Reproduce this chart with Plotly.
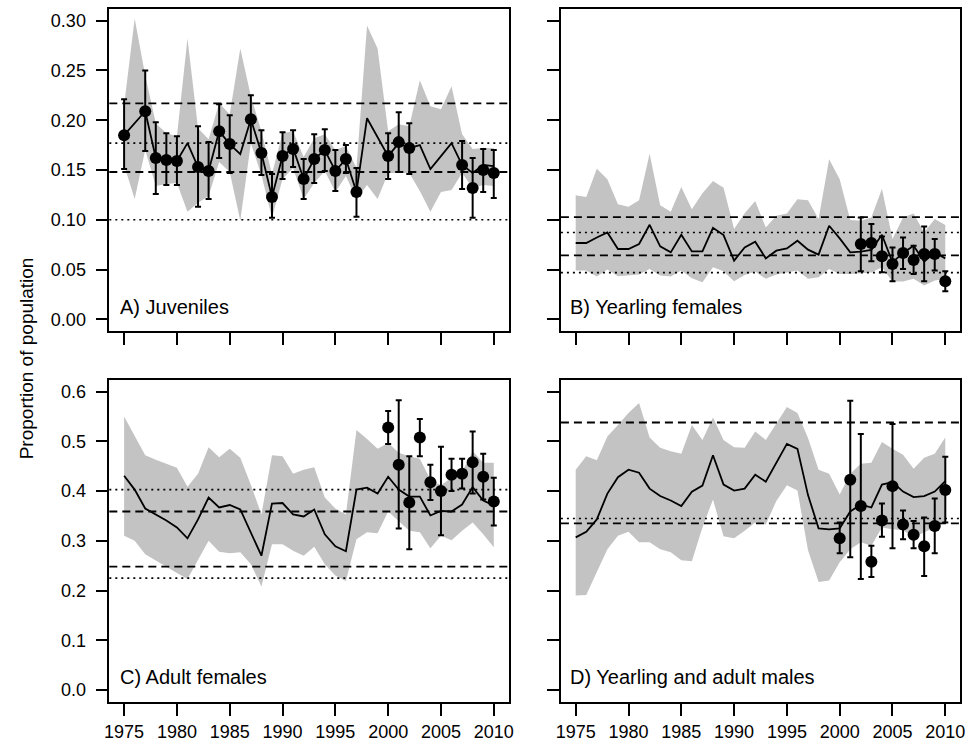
import plotly.graph_objects as go

# ---------------- data ----------------
years = list(range(1975, 2011))
x_ticks = [1975, 1980, 1985, 1990, 1995, 2000, 2005, 2010]
y_ticks_top = [0.00, 0.05, 0.10, 0.15, 0.20, 0.25, 0.30]
y_ticks_bot = [0.0, 0.1, 0.2, 0.3, 0.4, 0.5, 0.6]

# Panel A: Juveniles
A_line = [0.185, 0.197, 0.209, 0.162, 0.160, 0.159, 0.177, 0.153, 0.149, 0.189,
          0.176, 0.166, 0.201, 0.167, 0.123, 0.164, 0.172, 0.141, 0.161, 0.170,
          0.149, 0.161, 0.128, 0.202, 0.183, 0.164, 0.177, 0.172, 0.175, 0.151,
          0.164, 0.177, 0.155, 0.147, 0.155, 0.154]
A_upper = [0.215, 0.302, 0.245, 0.197, 0.187, 0.184, 0.282, 0.192, 0.181, 0.217,
           0.206, 0.272, 0.224, 0.189, 0.146, 0.187, 0.189, 0.163, 0.182, 0.186,
           0.170, 0.174, 0.152, 0.295, 0.272, 0.189, 0.196, 0.194, 0.240, 0.214,
           0.211, 0.234, 0.186, 0.171, 0.172, 0.172]
A_lower = [0.155, 0.121, 0.170, 0.134, 0.136, 0.137, 0.108, 0.117, 0.124, 0.158,
           0.148, 0.099, 0.177, 0.145, 0.102, 0.141, 0.152, 0.121, 0.137, 0.149,
           0.128, 0.144, 0.121, 0.135, 0.121, 0.147, 0.147, 0.147, 0.129, 0.108,
           0.128, 0.130, 0.147, 0.132, 0.135, 0.134]
A_obs_years = [1975, 1977, 1978, 1979, 1980, 1982, 1983, 1984, 1985, 1987, 1988,
               1989, 1990, 1991, 1992, 1993, 1994, 1995, 1996, 1997, 2000, 2001,
               2002, 2007, 2008, 2009, 2010]
A_obs = [0.185, 0.209, 0.162, 0.160, 0.159, 0.153, 0.149, 0.189, 0.176, 0.201, 0.167,
         0.123, 0.164, 0.171, 0.141, 0.161, 0.170, 0.149, 0.161, 0.128, 0.164, 0.178,
         0.172, 0.155, 0.132, 0.150, 0.147]
A_obs_lo = [0.151, 0.169, 0.126, 0.135, 0.135, 0.113, 0.121, 0.162, 0.147, 0.177, 0.145,
            0.102, 0.141, 0.153, 0.121, 0.137, 0.149, 0.129, 0.147, 0.103, 0.141, 0.148,
            0.146, 0.131, 0.102, 0.128, 0.122]
A_obs_hi = [0.221, 0.250, 0.198, 0.187, 0.184, 0.194, 0.178, 0.216, 0.205, 0.225, 0.190,
            0.146, 0.188, 0.190, 0.161, 0.186, 0.191, 0.170, 0.175, 0.152, 0.187, 0.208,
            0.197, 0.179, 0.162, 0.171, 0.170]
A_dashed = [0.217, 0.148]
A_dotted = [0.177, 0.100]

# Panel B: Yearling females
B_line = [0.0767, 0.0767, 0.0823, 0.0873, 0.0707, 0.0707, 0.0757, 0.0950, 0.0733, 0.0673,
          0.0850, 0.0683, 0.0683, 0.0920, 0.0847, 0.0590, 0.0723, 0.0780, 0.0613, 0.0690,
          0.0713, 0.0790, 0.0700, 0.0650, 0.0940, 0.0813, 0.0673, 0.0680, 0.0697, 0.0850,
          0.0573, 0.0667, 0.0740, 0.0580, 0.0673, 0.0613]
B_upper = [0.1247, 0.1230, 0.1513, 0.1407, 0.1157, 0.1130, 0.1197, 0.1663, 0.1147, 0.1080,
           0.1330, 0.1107, 0.1267, 0.1390, 0.1323, 0.0907, 0.1067, 0.1190, 0.0923, 0.1040,
           0.1063, 0.1207, 0.1197, 0.1007, 0.1607, 0.1407, 0.0997, 0.0990, 0.1023, 0.1313,
           0.0807, 0.1023, 0.1063, 0.0873, 0.1007, 0.0947]
B_lower = [0.0490, 0.0490, 0.0430, 0.0500, 0.0433, 0.0440, 0.0450, 0.0507, 0.0440, 0.0430,
           0.0490, 0.0413, 0.0373, 0.0523, 0.0483, 0.0383, 0.0447, 0.0480, 0.0407, 0.0450,
           0.0467, 0.0490, 0.0407, 0.0423, 0.0507, 0.0457, 0.0457, 0.0463, 0.0470, 0.0523,
           0.0380, 0.0380, 0.0407, 0.0340, 0.0390, 0.0407]
B_obs_years = [2002, 2003, 2004, 2005, 2006, 2007, 2008, 2009, 2010]
B_obs = [0.0757, 0.0767, 0.0633, 0.0557, 0.0667, 0.0597, 0.0657, 0.0657, 0.0383]
B_obs_lo = [0.0483, 0.0583, 0.0473, 0.0383, 0.0507, 0.0457, 0.0383, 0.0490, 0.0283]
B_obs_hi = [0.1023, 0.0957, 0.0833, 0.0723, 0.0823, 0.0740, 0.0933, 0.0807, 0.0483]
B_dashed = [0.1027, 0.0643]
B_dotted = [0.0873, 0.0470]

# Panel C: Adult females
C_line = [0.431, 0.403, 0.365, 0.353, 0.341, 0.327, 0.305, 0.343, 0.387, 0.367,
          0.372, 0.363, 0.317, 0.270, 0.375, 0.376, 0.353, 0.349, 0.363, 0.313,
          0.289, 0.279, 0.403, 0.407, 0.395, 0.429, 0.403, 0.389, 0.389, 0.351,
          0.360, 0.359, 0.373, 0.408, 0.381, 0.371]
C_upper = [0.550, 0.510, 0.472, 0.463, 0.455, 0.447, 0.409, 0.435, 0.488, 0.468,
           0.485, 0.467, 0.413, 0.353, 0.472, 0.470, 0.435, 0.443, 0.448, 0.387,
           0.365, 0.353, 0.523, 0.505, 0.485, 0.497, 0.477, 0.470, 0.465, 0.423,
           0.412, 0.427, 0.439, 0.480, 0.457, 0.457]
C_lower = [0.310, 0.300, 0.273, 0.260, 0.247, 0.235, 0.223, 0.261, 0.300, 0.278,
           0.275, 0.277, 0.253, 0.208, 0.293, 0.293, 0.280, 0.270, 0.288, 0.253,
           0.230, 0.219, 0.303, 0.317, 0.315, 0.359, 0.340, 0.320, 0.317, 0.285,
           0.310, 0.301, 0.320, 0.337, 0.313, 0.287]
C_obs_years = [2000, 2001, 2002, 2003, 2004, 2005, 2006, 2007, 2008, 2009, 2010]
C_obs = [0.528, 0.453, 0.377, 0.508, 0.418, 0.400, 0.433, 0.435, 0.458, 0.429, 0.379]
C_obs_lo = [0.495, 0.325, 0.283, 0.470, 0.382, 0.311, 0.400, 0.405, 0.395, 0.383, 0.331]
C_obs_hi = [0.561, 0.583, 0.470, 0.545, 0.453, 0.489, 0.465, 0.465, 0.520, 0.475, 0.427]
C_dashed = [0.359, 0.248]
C_dotted = [0.403, 0.225]

# Panel D: Yearling and adult males
D_line = [0.307, 0.318, 0.343, 0.395, 0.428, 0.443, 0.437, 0.405, 0.390, 0.381,
          0.370, 0.399, 0.411, 0.472, 0.413, 0.401, 0.405, 0.433, 0.419, 0.457,
          0.495, 0.485, 0.392, 0.325, 0.323, 0.325, 0.359, 0.373, 0.367, 0.413,
          0.418, 0.399, 0.388, 0.390, 0.399, 0.420]
D_upper = [0.443, 0.470, 0.462, 0.510, 0.533, 0.557, 0.577, 0.508, 0.487, 0.480,
           0.475, 0.533, 0.503, 0.548, 0.503, 0.488, 0.487, 0.520, 0.503, 0.537,
           0.569, 0.557, 0.507, 0.443, 0.435, 0.393, 0.435, 0.455, 0.457, 0.499,
           0.485, 0.473, 0.445, 0.467, 0.475, 0.508]
D_lower = [0.190, 0.191, 0.237, 0.283, 0.310, 0.318, 0.297, 0.297, 0.283, 0.277,
           0.261, 0.259, 0.327, 0.383, 0.309, 0.305, 0.320, 0.337, 0.333, 0.380,
           0.412, 0.401, 0.281, 0.217, 0.220, 0.257, 0.283, 0.297, 0.290, 0.327,
           0.323, 0.321, 0.307, 0.317, 0.327, 0.337]
D_obs_years = [2000, 2001, 2002, 2003, 2004, 2005, 2006, 2007, 2008, 2009, 2010]
D_obs = [0.305, 0.423, 0.370, 0.258, 0.341, 0.410, 0.333, 0.312, 0.289, 0.330, 0.402]
D_obs_lo = [0.275, 0.267, 0.223, 0.227, 0.308, 0.285, 0.303, 0.285, 0.229, 0.275, 0.337]
D_obs_hi = [0.337, 0.582, 0.515, 0.290, 0.375, 0.535, 0.361, 0.340, 0.347, 0.385, 0.469]
D_dashed = [0.538, 0.335]
D_dotted = [0.345]

panel_labels = ["A) Juveniles", "B) Yearling females", "C) Adult females",
                "D) Yearling and adult males"]
y_title = "Proportion of population"

# ---------------- layout geometry (pixels) ----------------
W, H = 972, 742
FONT = "Liberation Sans, Arial, Helvetica, sans-serif"
BAND = "#c3c3c3"


def xdom(left, right):
    return [left / W, right / W]


def ydom(top, bottom):
    return [1 - bottom / H, 1 - top / H]


panels = [
    dict(line=A_line, up=A_upper, lo=A_lower, oy=A_obs_years, o=A_obs, olo=A_obs_lo, ohi=A_obs_hi,
         dashed=A_dashed, dotted=A_dotted, xd=xdom(105.4, 508.8), yd=ydom(8.7, 332.7),
         yr=[-0.012, 0.312], yt=y_ticks_top, fmt=".2f", xlab=False, ylab=True,
         label=panel_labels[0], lx=114, ly=308),
    dict(line=B_line, up=B_upper, lo=B_lower, oy=B_obs_years, o=B_obs, olo=B_obs_lo, ohi=B_obs_hi,
         dashed=B_dashed, dotted=B_dotted, xd=xdom(561.7, 965), yd=ydom(8.7, 332.7),
         yr=[-0.012, 0.312], yt=y_ticks_top, fmt=".2f", xlab=False, ylab=False,
         label=panel_labels[1], lx=569, ly=308),
    dict(line=C_line, up=C_upper, lo=C_lower, oy=C_obs_years, o=C_obs, olo=C_obs_lo, ohi=C_obs_hi,
         dashed=C_dashed, dotted=C_dotted, xd=xdom(105.4, 508.8), yd=ydom(381.3, 704.7),
         yr=[-0.024, 0.624], yt=y_ticks_bot, fmt=".1f", xlab=True, ylab=True,
         label=panel_labels[2], lx=114, ly=680),
    dict(line=D_line, up=D_upper, lo=D_lower, oy=D_obs_years, o=D_obs, olo=D_obs_lo, ohi=D_obs_hi,
         dashed=D_dashed, dotted=D_dotted, xd=xdom(561.7, 965), yd=ydom(381.3, 704.7),
         yr=[-0.024, 0.624], yt=y_ticks_bot, fmt=".1f", xlab=True, ylab=False,
         label=panel_labels[3], lx=569, ly=680),
]

fig = go.Figure()
layout = dict(
    width=W, height=H, margin=dict(l=0, r=0, t=0, b=0),
    paper_bgcolor="white", plot_bgcolor="white", showlegend=False,
    font=dict(family=FONT, size=18, color="black"),
)
annotations = []
shapes = []

for i, p in enumerate(panels, start=1):
    xa = "x" if i == 1 else f"x{i}"
    ya = "y" if i == 1 else f"y{i}"
    # band
    fig.add_trace(go.Scatter(x=years, y=p["lo"], mode="lines", line=dict(width=0, color=BAND),
                             xaxis=xa, yaxis=ya, hoverinfo="skip"))
    fig.add_trace(go.Scatter(x=years, y=p["up"], mode="lines", line=dict(width=0, color=BAND),
                             fill="tonexty", fillcolor=BAND, xaxis=xa, yaxis=ya, hoverinfo="skip"))
    # model line
    fig.add_trace(go.Scatter(x=years, y=p["line"], mode="lines",
                             line=dict(color="black", width=1.8), xaxis=xa, yaxis=ya))
    # observations with error bars
    plus = [h - v for h, v in zip(p["ohi"], p["o"])]
    minus = [v - l for l, v in zip(p["olo"], p["o"])]
    fig.add_trace(go.Scatter(x=p["oy"], y=p["o"], mode="markers",
                             marker=dict(color="black", size=12),
                             error_y=dict(type="data", array=plus, arrayminus=minus,
                                          color="black", thickness=2, width=3),
                             xaxis=xa, yaxis=ya))
    # reference lines
    for v in p["dashed"]:
        shapes.append(dict(type="line", xref=f"{xa} domain", yref=ya, x0=0, x1=1, y0=v, y1=v,
                           line=dict(color="black", width=1.8, dash="8px,5px"), layer="above"))
    for v in p["dotted"]:
        shapes.append(dict(type="line", xref=f"{xa} domain", yref=ya, x0=0, x1=1, y0=v, y1=v,
                           line=dict(color="black", width=1.6, dash="2px,4px"), layer="above"))

    xkey = "xaxis" if i == 1 else f"xaxis{i}"
    ykey = "yaxis" if i == 1 else f"yaxis{i}"
    layout[xkey] = dict(domain=p["xd"], anchor=ya, range=[1973.6, 2011.4],
                        tickmode="array", tickvals=x_ticks, ticktext=[str(t) for t in x_ticks],
                        showticklabels=p["xlab"], ticks="outside", ticklen=12, tickwidth=1.6,
                        tickcolor="black", showline=True, linecolor="black", linewidth=1.6,
                        mirror=True, showgrid=False, zeroline=False, ticklabelstandoff=1,
                        tickfont=dict(family=FONT, size=18, color="black"))
    layout[ykey] = dict(domain=p["yd"], anchor=xa, range=p["yr"],
                        tickmode="array", tickvals=p["yt"],
                        ticktext=[format(t, p["fmt"]) for t in p["yt"]],
                        showticklabels=p["ylab"], ticks="outside", ticklen=12, tickwidth=1.6,
                        tickcolor="black", showline=True, linecolor="black", linewidth=1.6,
                        mirror=True, showgrid=False, zeroline=False, ticklabelstandoff=6,
                        tickfont=dict(family=FONT, size=18, color="black"))
    annotations.append(dict(text=p["label"], xref="paper", yref="paper",
                            x=p["lx"] / W, y=1 - p["ly"] / H, xanchor="left", yanchor="middle",
                            showarrow=False, font=dict(family=FONT, size=20, color="black")))

annotations.append(dict(text=y_title, xref="paper", yref="paper", x=22 / W, y=1 - 360 / H,
                        xanchor="center", yanchor="middle", textangle=-90, showarrow=False,
                        font=dict(family=FONT, size=19, color="black")))
layout["annotations"] = annotations
layout["shapes"] = shapes
fig.update_layout(**layout)
fig.write_html("out.html")
